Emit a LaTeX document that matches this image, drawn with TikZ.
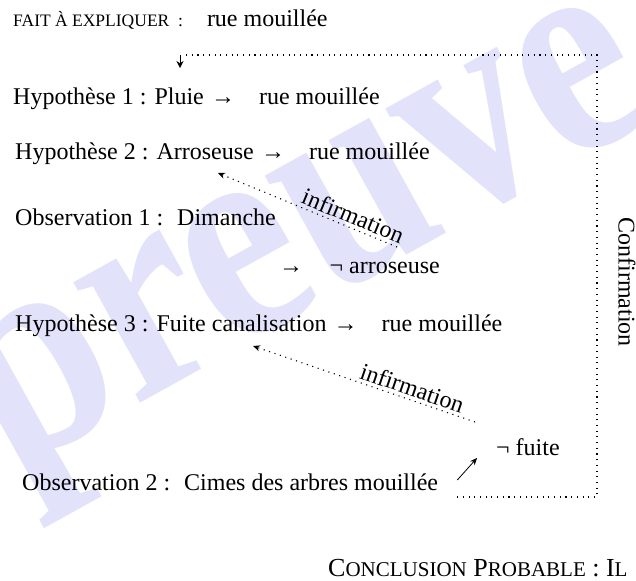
\documentclass[tikz,border=0pt]{standalone}
\usepackage{fontspec}
\setmainfont{Liberation Serif}
\usetikzlibrary{arrows.meta}

\definecolor{filigrane}{RGB}{226,226,250}
\newcommand{\petitcap}[1]{{\fontsize{17.5}{20}\selectfont #1}}
\newcommand{\impl}{\hspace{0.3em}→\hspace{1em}}

\begin{document}
\begin{tikzpicture}[x=1pt, y=-1pt,
    every node/.style={inner sep=0pt, font=\fontsize{24}{28}\selectfont},
    ligne/.style={anchor=base west},
    pointille/.style={line width=1.1pt, dash pattern=on 1.1pt off 4.6pt},
    infirm/.style={pointille, -{Stealth[length=7pt, width=6pt]}}]
    \useasboundingbox (0,0) rectangle (636,580);

    % Filigrane
    \node[anchor=base west, rotate=29, text=filigrane,
          font=\fontsize{300}{300}\selectfont\bfseries] (filigrane) at (10,475)
        {\scalebox{0.85}[1]{preuve}};

    % Fait et hypotheses
    \node[ligne] (fait) at (13,27) {\petitcap{FAIT À EXPLIQUER \ :}\quad rue mouillée};
    \node[ligne] (hyp1) at (13,105) {Hypothèse 1 : Pluie\impl rue mouillée};
    \node[ligne] (hyp2) at (15,160) {Hypothèse 2 : Arroseuse\impl rue mouillée};
    \node[ligne] (obs1) at (15,225) {Observation 1 : \ Dimanche};
    \node[ligne] (arro) at (279,273) {→\hspace{1.1em}¬ arroseuse};
    \node[ligne] (hyp3) at (15,331) {Hypothèse 3 : Fuite canalisation\impl rue mouillée};
    \node[ligne] (fuite) at (496,455) {¬ fuite};
    \node[ligne] (obs2) at (22,490) {Observation 2 : \ Cimes des arbres mouillée};
    \node[anchor=base west, font=\fontsize{26}{30}\selectfont] (concl) at (328,576)
        {C{\fontsize{21}{24}\selectfont ONCLUSION} P{\fontsize{21}{24}\selectfont ROBABLE} : I{\fontsize{21}{24}\selectfont L}};

    % Boucle de confirmation
    \coordinate (hautg) at (186,55);
    \coordinate (hautd) at (597,55);
    \coordinate (basd) at (597,497);
    \coordinate (basg) at (453,497);
    \draw[pointille] (hautg) -- (hautd) -- (basd) -- (basg);
    \draw[-{Stealth[length=7pt, width=7pt]}, line width=0.8pt] (180,55) -- (180,68);
    \node[rotate=-90] (conf) at (627,282) {Confirmation};

    % Infirmations
    \coordinate (i1a) at (397,247);
    \coordinate (i1b) at (218,173);
    \draw[infirm] (i1a) -- node[sloped, above=3pt, pos=0.27] {infirmation} (i1b);
    \coordinate (i2a) at (475,422);
    \coordinate (i2b) at (253,346);
    \draw[infirm] (i2a) -- node[sloped, above=3pt, pos=0.3] {infirmation} (i2b);

    % Observation 2 vers non fuite
    \draw[-{Stealth[length=7pt, width=6pt]}, line width=0.8pt]
        ([shift={(19,-10)}]obs2.base east) -- ([shift={(-19,3)}]fuite.base west);
\end{tikzpicture}
\end{document}
